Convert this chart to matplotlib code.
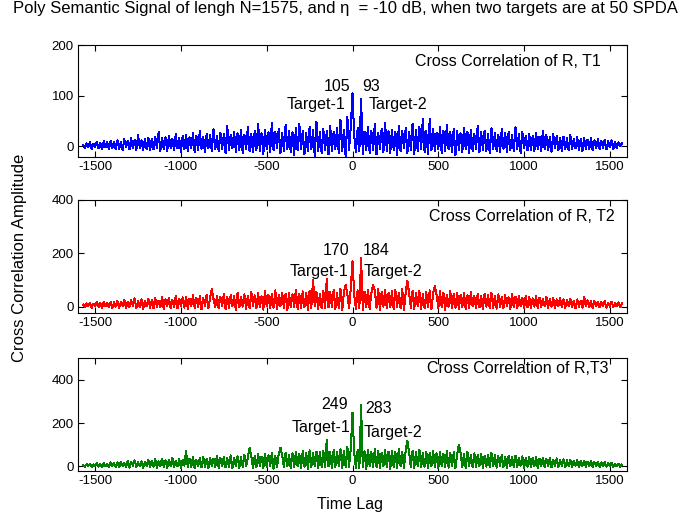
import numpy as np
import matplotlib
matplotlib.use("Agg")
import matplotlib.pyplot as plt

# ------------------------------------------
# data (lag step 10, -1570 .. 1570)
# ------------------------------------------
LAG_START, LAG_STOP, LAG_STEP = -1570, 1570, 10

xcorr_t1 = [
    3, -4, 6, -2, 8, -5, 5, -1, 9, -4, 7, -6, 10, -2, 8, -5, 11, -3, 9, -6,
    12, -5, 9, -7, 14, -2, 11, -6, 16, -4, 13, -8, 22, -3, 12, -7, 15, -5, 17, -8,
    14, -6, 19, -4, 28, -9, 16, -5, 18, -10, 21, -3, 15, -8, 24, -4, 17, -11, 20, -6,
    23, -9, 18, -4, 26, -11, 21, -7, 31, -5, 19, -12, 25, -3, 22, -10, 34, -6, 20, -9,
    27, -6, 24, -13, 41, -8, 22, -4, 29, -11, 26, -7, 33, -14, 23, -5, 38, -9, 25, -12,
    30, -7, 45, -10, 26, -16, 33, -5, 28, -12, 47, -8, 29, -4, 35, -14, 27, -9, 42, -6,
    31, -11, 28, -17, 36, -8, 44, -5, 30, -15, 27, -10, 39, -6, 32, -19, 48, -9, 29, -13,
    34, -8, 30, -16, 41, -10, 28, -5, 37, -14, 52, -9, 33, -20, 58, -7, 40, 105, 20, -12,
    36, -9, 93, -15, 29, -7, 38, -13, 31, -8, 44, -16, 27, -5, 35, -12, 47, -9, 30, -14,
    33, -7, 28, -17, 40, -10, 31, -4, 36, -13, 29, -8, 45, -15, 32, -9, 38, -5, 55, -11,
    30, -16, 54, -8, 34, -10, 27, -5, 39, -14, 31, -9, 43, -6, 28, -12, 35, -17, 30, -7,
    26, -11, 37, -6, 29, -14, 33, -9, 25, -5, 41, -12, 28, -7, 31, -10, 24, -13, 36, -6,
    27, -9, 23, -12, 34, -5, 26, -11, 29, -7, 22, -10, 38, -6, 25, -13, 28, -4, 21, -8,
    24, -7, 20, -10, 27, -5, 19, -9, 31, -6, 22, -8, 18, -11, 25, -4, 20, -7, 17, -9,
    19, -5, 16, -8, 22, -6, 15, -4, 18, -7, 14, -9, 17, -5, 13, -6, 16, -8, 12, -4,
    14, -5, 11, -3, 13, -6, 10, -2, 12, -5, 9, -3, 8, 0, 6,
]

xcorr_t2 = [
    8, -3, 12, 2, 15, -4, 11, 3, 17, -2, 13, -6, 19, 1, 14, -3, 18, -5, 16, 0,
    21, -4, 17, 2, 26, -7, 19, -1, 24, 3, 31, -5, 20, -2, 27, -8, 22, 1, 29, -4,
    25, -6, 34, 0, 23, -3, 38, -9, 28, 2, 33, -5, 26, -1, 41, -7, 30, 3, 35, -4,
    36, -8, 29, 1, 42, -5, 33, -2, 39, -10, 31, 4, 45, -6, 34, 66, 28, -3, 40, -7,
    37, 2, 48, -9, 35, -4, 43, 1, 39, -12, 52, -3, 36, 0, 46, -8, 41, -5, 55, 3,
    42, -6, 50, -2, 39, -11, 58, 1, 44, -7, 49, -4, 61, -10, 43, 2, 53, -5, 47, -13,
    51, -3, 46, 0, 63, -9, 48, -6, 57, -2, 53, -12, 60, -4, 101, 1, 55, -8, 49, -5,
    58, -7, 104, -3, 54, 0, 62, -10, 50, -4, 66, -14, 57, 82, 48, -6, 69, 170, 45, -9,
    61, -5, 184, -11, 56, -2, 64, -8, 52, 82, 59, -4, 67, -12, 55, 0, 63, -7, 51, -3,
    57, -9, 62, -1, 50, -6, 66, -13, 54, 97, 49, -4, 60, -8, 53, 1, 58, -10, 47, -5,
    55, -3, 61, -9, 50, 76, 46, -6, 57, -2, 52, -11, 44, 0, 59, -7, 48, -4, 53, -8,
    45, -2, 51, -10, 43, -5, 56, 1, 41, -7, 49, -3, 40, -9, 47, 0, 44, -6, 52, -4,
    39, -8, 46, -1, 37, -5, 42, 2, 35, -9, 48, -3, 38, -6, 41, 1, 34, -7, 40, -2,
    36, -4, 31, 0, 39, -6, 33, -2, 29, 3, 37, -5, 30, -1, 34, -7, 27, 2, 32, -3,
    28, -5, 25, 1, 30, -3, 23, -6, 27, 0, 21, -4, 38, 2, 24, -2, 20, -5, 22, 1,
    19, -3, 17, 2, 21, -4, 15, 0, 18, -2, 14, 1, 16, -1, 12,
]

xcorr_t3 = [
    6, -2, 10, 1, 13, -4, 9, 2, 15, -1, 11, -5, 17, 0, 12, -3, 19, 2, 14, -2,
    18, -4, 22, 1, 16, -2, 25, -6, 20, 3, 28, -3, 19, 0, 24, -7, 21, 2, 30, -4,
    26, -1, 33, -6, 23, 2, 36, -3, 28, -8, 31, 1, 39, -4, 27, 0, 34, -6, 29, 3,
    71, -5, 35, -2, 42, -9, 31, 2, 38, -4, 45, -1, 33, -7, 40, 3, 36, -3, 48, -8,
    39, 0, 44, -5, 37, -2, 51, -10, 41, 1, 47, -6, 43, -3, 54, 2, 40, 86, 46, -7,
    49, -4, 56, 1, 45, -8, 59, -2, 51, 3, 62, -11, 48, -5, 57, 86, 53, -3, 64, 0,
    55, -9, 61, -4, 67, 2, 58, -6, 70, -1, 63, -12, 74, -3, 60, 1, 68, -7, 65, -2,
    71, -5, 124, 0, 66, -10, 77, -3, 69, 2, 80, -8, 73, -4, 92, -1, 84, 249, 62, -6,
    75, -9, 283, -2, 70, -13, 78, 1, 67, -5, 81, -3, 72, -7, 64, 0, 76, -4, 69, -11,
    73, -2, 66, -6, 79, 1, 68, -9, 74, 118, 63, -3, 71, -8, 65, 2, 77, -5, 62, -1,
    69, -7, 64, 0, 72, -4, 60, -10, 67, 2, 58, -3, 70, -6, 61, 1, 65, -8, 56, 99,
    63, -2, 57, -9, 66, 1, 54, -5, 60, -3, 52, 2, 58, -7, 50, -1, 55, -4, 62, 0,
    51, -6, 47, 2, 54, -3, 45, -8, 50, 1, 43, -4, 49, -2, 41, 3, 46, -6, 40, -1,
    44, -3, 38, 1, 42, -7, 36, 2, 40, -4, 34, 0, 39, -5, 32, 1, 37, -3, 30, 2,
    33, -4, 28, 0, 31, -2, 26, 3, 29, -5, 24, 1, 27, -3, 22, 0, 25, -2, 20, 1,
    21, -3, 18, 0, 19, -1, 15, 2, 16, -2, 13, 1, 11, -1, 8,
]

series_names = ["Cross Correlation of R, T1", "Cross Correlation of R, T2", "Cross Correlation of R,T3"]
peak_values = [(105, 93), (170, 184), (249, 283)]
target_labels = ["Target-1", "Target-2"]
x_ticks = [-1500, -1000, -500, 0, 500, 1000, 1500]
y_ticks = [[0, 100, 200], [0, 200, 400], [0, 200, 400]]

# ------------------------------------------
# plot
# ------------------------------------------
plt.rcParams['font.family'] = ['Liberation Sans', 'DejaVu Sans']
plt.rcParams['font.size'] = 11.5
plt.rcParams['axes.unicode_minus'] = False

lags = np.arange(LAG_START, LAG_STOP + 1, LAG_STEP)
all_series = [xcorr_t1, xcorr_t2, xcorr_t3]
for s in all_series:
    assert len(s) == len(lags), len(s)

fig = plt.figure(figsize=(6.78, 5.15), dpi=100)
W, H = 678.0, 515.0
# (top, bottom) of each panel in pixels
boxes = [(45, 156.5), (200, 313.3), (358.3, 470.7)]
ylims = [(-20, 200), (-25, 400), (-20, 500)]
colors = ['#0000ff', '#ff0000', '#008000']

# text positions (lag, value) for the peak numbers and target labels
num_pos = [((-12, 118), (58, 118)), ((-17, 209), (58, 209)), ((-28, 284), (72, 266))]
tgt_pos = [((-40, 82), (95, 82)), ((-23, 133), (64, 133)), ((-12, 178), (64, 155))]
name_pos = [(1447, 168), (1529, 337), (1494, 455)]

for i, (top, bot) in enumerate(boxes):
    ax = fig.add_axes([78 / W, 1 - bot / H, (627 - 78) / W, (bot - top) / H])
    ax.plot(lags, all_series[i], color=colors[i], lw=0.72, antialiased=False)
    ax.set_xlim(-1600, 1600)
    ax.set_ylim(*ylims[i])
    ax.set_xticks(x_ticks)
    ax.set_yticks(y_ticks[i])
    ax.tick_params(direction='in', top=True, right=True, length=4, width=0.8,
                   labelsize=9.5, pad=3)
    for sp in ax.spines.values():
        sp.set_linewidth(0.8)

    (x1, y1), (x2, y2) = num_pos[i]
    ax.text(x1, y1, str(peak_values[i][0]), ha='right', va='center')
    ax.text(x2, y2, str(peak_values[i][1]), ha='left', va='center')
    (x1, y1), (x2, y2) = tgt_pos[i]
    ax.text(x1, y1, target_labels[0], ha='right', va='center')
    ax.text(x2, y2, target_labels[1], ha='left', va='center')
    ax.text(name_pos[i][0], name_pos[i][1], series_names[i], ha='right', va='center')

fig.text(345 / W, 1 - 9 / H,
         "Poly Semantic Signal of lengh N=1575, and \u03b7  = -10 dB, when two targets are at 50 SPDA",
         ha='center', va='center', fontsize=12)
fig.text(20 / W, 1 - 258 / H, "Cross Correlation Amplitude", rotation=90,
         ha='center', va='center', fontsize=12)
fig.text(350 / W, 1 - 505 / H, "Time Lag", ha='center', va='center')

fig.savefig("out.png", dpi=100)
